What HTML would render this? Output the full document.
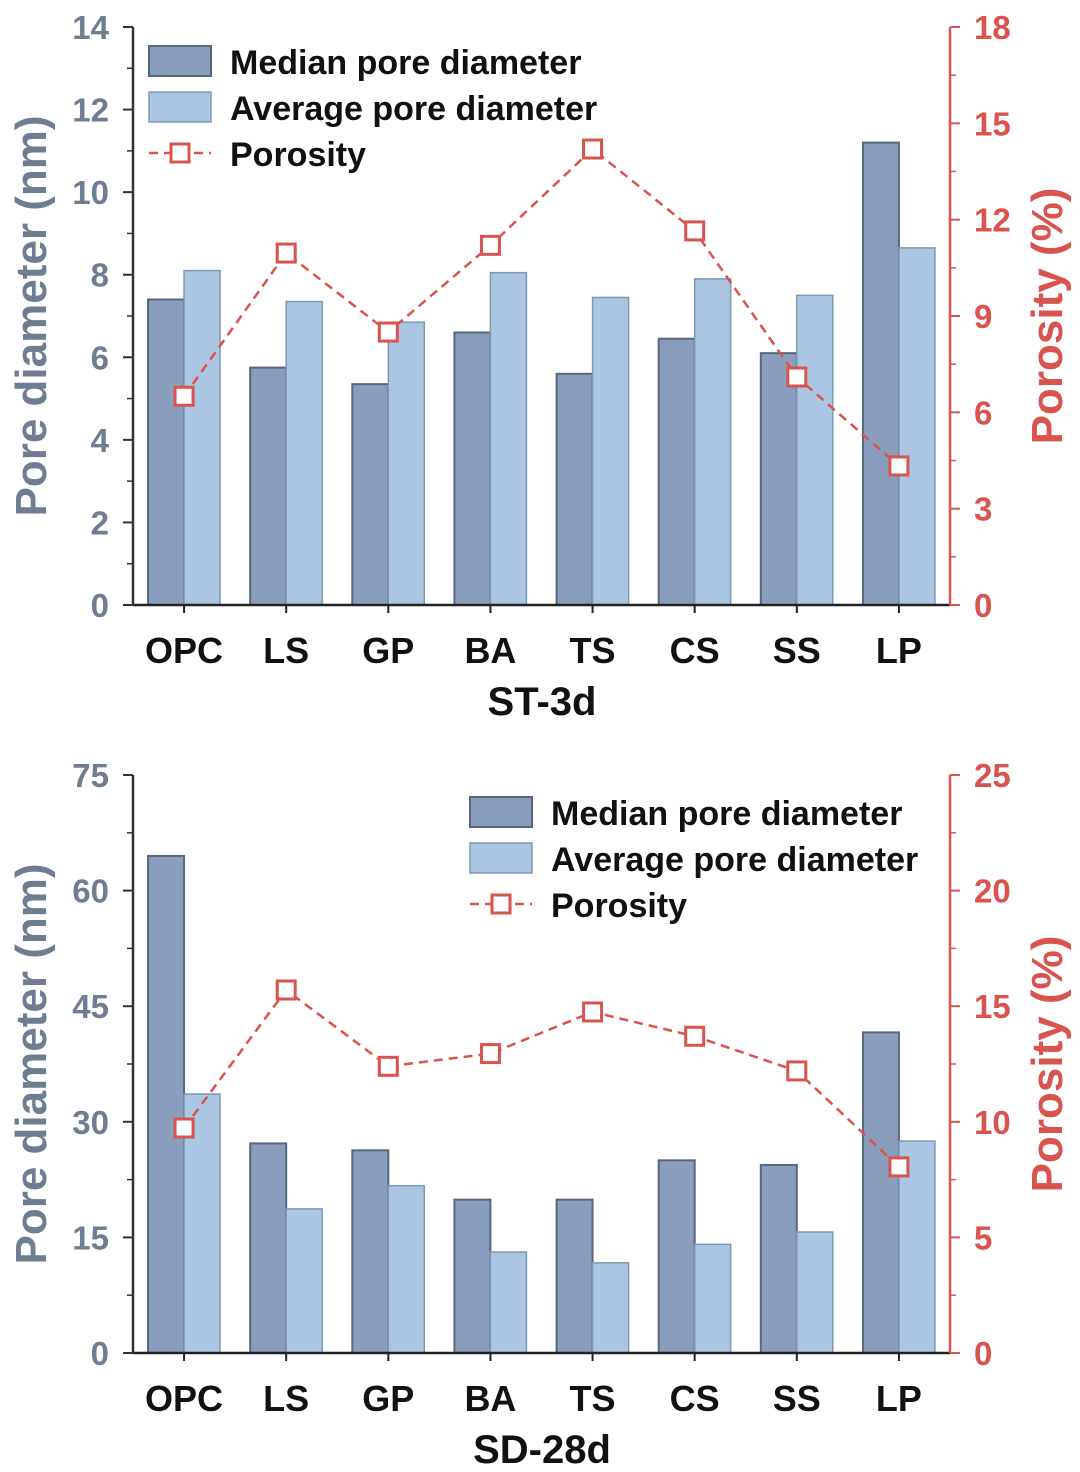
<!DOCTYPE html>
<html><head><meta charset="utf-8">
<style>
html,body{margin:0;padding:0;background:#fff;}
svg{display:block;font-family:"Liberation Sans",Arial,sans-serif;}
</style></head>
<body>
<svg id="c" width="1080" height="1472" viewBox="0 0 1080 1472"></svg>
<script>
const categories = ["OPC","LS","GP","BA","TS","CS","SS","LP"];
const medianTop = [7.4,5.75,5.35,6.6,5.6,6.45,6.1,11.2];
const averageTop = [8.1,7.35,6.85,8.05,7.45,7.9,7.5,8.65];
const porosityTop = [6.5,10.96,8.5,11.2,14.2,11.65,7.1,4.33];
const leftTicksTop = [0,2,4,6,8,10,12,14];
const rightTicksTop = [0,3,6,9,12,15,18];
const medianBot = [64.5,27.2,26.3,19.9,19.9,25.0,24.4,41.6];
const averageBot = [33.6,18.7,21.7,13.1,11.7,14.1,15.7,27.5];
const porosityBot = [9.73,15.7,12.4,12.95,14.75,13.7,12.2,8.05];
const leftTicksBot = [0,15,30,45,60,75];
const rightTicksBot = [0,5,10,15,20,25];

const NS="http://www.w3.org/2000/svg";
const svg=document.getElementById('c');
function mk(tag,attrs,parent,text){const e=document.createElementNS(NS,tag);for(const k in attrs)e.setAttribute(k,attrs[k]);if(text!==undefined)e.textContent=text;(parent||svg).appendChild(e);return e;}

const GRAY="#6f7d92", RED="#d9534f", MED="#8b9dbc", MEDB="#56677f", AVG="#abc6e2", AVGB="#7d98b6";

function chart(o){
  const g=mk('g',{});
  
  
  const x0=133,x1=950,yT=o.top,yB=o.top+578;
  const band=(x1-x0)/categories.length;
  const xc=i=>x0+band*(i+0.5);
  const yL=v=>yB-(v/o.lmax)*(yB-yT);
  const yR=v=>yB-(v/o.rmax)*(yB-yT);
  const bw=36;
  categories.forEach((c,i)=>{
    const m=mk('rect',{x:xc(i)-bw,y:yL(o.med[i]),width:bw,height:yB-yL(o.med[i]),fill:MED,stroke:MEDB,'stroke-width':2},g);
    
    
    const a=mk('rect',{x:xc(i),y:yL(o.avg[i]),width:bw,height:yB-yL(o.avg[i]),fill:AVG,stroke:AVGB,'stroke-width':1.5},g);
    
    
    const t=mk('text',{x:xc(i),y:yB+58,'text-anchor':'middle','font-size':36,'font-weight':'bold',fill:'#111'},g,c);
    
    
    mk('line',{x1:xc(i),x2:xc(i),y1:yB,y2:yB+8,stroke:'#222','stroke-width':2},g);
  });
  const pts=o.por.map((v,i)=>xc(i)+','+yR(v)).join(' ');
  const pl=mk('polyline',{points:pts,fill:'none',stroke:RED,'stroke-width':2.5,'stroke-dasharray':'9,6'},g);
  
  
  o.por.forEach((v,i)=>{
    const s=mk('rect',{x:xc(i)-9,y:yR(v)-9,width:18,height:18,fill:'#fff',stroke:RED,'stroke-width':3},g);
    
    
  });
  mk('line',{x1:x0,x2:x1,y1:yB,y2:yB,stroke:'#222','stroke-width':2.5},g);
  mk('line',{x1:x0,x2:x0,y1:yT,y2:yB,stroke:'#333','stroke-width':2.5},g);
  mk('line',{x1:x1,x2:x1,y1:yT,y2:yB,stroke:RED,'stroke-width':2.5},g);
  o.lt.forEach((v,i)=>{
    mk('line',{x1:x0-10,x2:x0,y1:yL(v),y2:yL(v),stroke:'#333','stroke-width':2},g);
    if(i<o.lt.length-1){const mv=(v+o.lt[i+1])/2;mk('line',{x1:x0-6,x2:x0,y1:yL(mv),y2:yL(mv),stroke:'#333','stroke-width':1.5},g);}
    const t=mk('text',{x:x0-24,y:yL(v)+12,'text-anchor':'end','font-size':33,'font-weight':'bold',fill:GRAY},g,String(v));
    
    
  });
  o.rt.forEach((v,i)=>{
    mk('line',{x1:x1,x2:x1+10,y1:yR(v),y2:yR(v),stroke:RED,'stroke-width':2},g);
    if(i<o.rt.length-1){const mv=(v+o.rt[i+1])/2;mk('line',{x1:x1,x2:x1+6,y1:yR(mv),y2:yR(mv),stroke:RED,'stroke-width':1.5},g);}
    const t=mk('text',{x:x1+24,y:yR(v)+12,'text-anchor':'start','font-size':33,'font-weight':'bold',fill:RED},g,String(v));
    
    
  });
  const lt=mk('text',{x:0,y:0,transform:`translate(46,${(yT+yB)/2}) rotate(-90)`,'text-anchor':'middle','font-size':44,'font-weight':'bold',fill:GRAY},g,'Pore diameter (nm)');
  
  
  const rtx=mk('text',{x:0,y:0,transform:`translate(1062,${(yT+yB)/2}) rotate(-90)`,'text-anchor':'middle','font-size':44,'font-weight':'bold',fill:RED},g,'Porosity (%)');
  
  
  const ti=mk('text',{x:542,y:yB+110,'text-anchor':'middle','font-size':40,'font-weight':'bold',fill:'#111'},g,o.title);
  
  
  const lg=mk('g',{},g);
  
  
  const lx=o.lx,ly=o.ly;
  mk('rect',{x:lx,y:ly,width:62,height:30,fill:MED,stroke:MEDB,'stroke-width':2},lg);
  mk('text',{x:lx+81,y:ly+28,'font-size':34,'font-weight':'bold',fill:'#111'},lg,'Median pore diameter');
  mk('rect',{x:lx,y:ly+46,width:62,height:30,fill:AVG,stroke:AVGB,'stroke-width':1.5},lg);
  mk('text',{x:lx+81,y:ly+74,'font-size':34,'font-weight':'bold',fill:'#111'},lg,'Average pore diameter');
  mk('line',{x1:lx,x2:lx+62,y1:ly+107,y2:ly+107,stroke:RED,'stroke-width':2.5,'stroke-dasharray':'9,6'},lg);
  mk('rect',{x:lx+22,y:ly+98,width:18,height:18,fill:'#fff',stroke:RED,'stroke-width':3},lg);
  mk('text',{x:lx+81,y:ly+120,'font-size':34,'font-weight':'bold',fill:'#111'},lg,'Porosity');
}
chart({name:'chart-st-3d',top:27,lmax:14,rmax:18,med:medianTop,avg:averageTop,por:porosityTop,lt:leftTicksTop,rt:rightTicksTop,title:'ST-3d',lx:149,ly:46});
chart({name:'chart-sd-28d',top:775,lmax:75,rmax:25,med:medianBot,avg:averageBot,por:porosityBot,lt:leftTicksBot,rt:rightTicksBot,title:'SD-28d',lx:470,ly:797});
</script>
</body></html>
